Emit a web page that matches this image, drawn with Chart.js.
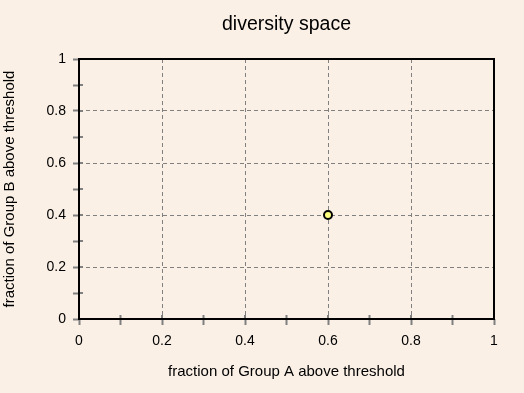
<!DOCTYPE html>
<html>
<head>
<meta charset="utf-8">
<script src="https://cdn.jsdelivr.net/npm/chart.js@4/dist/chart.umd.min.js"></script>
<style>
  html, body { margin: 0; padding: 0; background: #FAF0E6; }
  #wrap { width: 524px; height: 393px; }
</style>
</head>
<body>
<div id="wrap"><canvas id="space"></canvas></div>
<script>
// data
var xValues = [0.6];
var yValues = [0.4];
var labeledTicks = [0, 0.2, 0.4, 0.6, 0.8, 1];
var chartTitle = 'diversity space';
var xTitle = 'fraction of Group A above threshold';
var yTitle = 'fraction of Group B above threshold';

var points = xValues.map(function (x, i) { return { x: x, y: yValues[i] }; });

function isLabeled(v) {
  return labeledTicks.some(function (t) { return Math.abs(t - v) < 1e-6; });
}

function gridColor(ctx) {
  var v = ctx.tick ? ctx.tick.value : 0;
  if (v <= 0.001 || v >= 0.999) return 'rgba(0,0,0,0)';
  return isLabeled(v) ? '#808080' : 'rgba(0,0,0,0)';
}

function tickLabel(value) {
  if (!isLabeled(value)) return '';
  return String(Math.round(value * 10) / 10);
}

// box round the plot + short inner tick stubs
var frame = {
  id: 'frame',
  beforeDatasetsDraw: function (chart) {
    var c = chart.ctx, a = chart.chartArea;
    var xs = chart.scales.x, ys = chart.scales.y;
    c.save();
    c.strokeStyle = '#808080';
    c.lineWidth = 2;
    xs.ticks.forEach(function (t) {
      var px = xs.getPixelForValue(t.value);
      c.beginPath(); c.moveTo(px, a.bottom); c.lineTo(px, a.bottom - 4); c.stroke();
    });
    ys.ticks.forEach(function (t) {
      var py = ys.getPixelForValue(t.value);
      c.beginPath(); c.moveTo(a.left, py); c.lineTo(a.left + 4, py); c.stroke();
    });
    c.strokeStyle = '#000';
    c.lineWidth = 2;
    c.strokeRect(a.left, a.top, a.right - a.left, a.bottom - a.top);
    c.restore();
  }
};

Chart.defaults.font.family = '"Liberation Sans", Arial, sans-serif';
Chart.defaults.color = '#000';

new Chart(document.getElementById('space'), {
  type: 'scatter',
  data: {
    datasets: [{
      data: points,
      backgroundColor: '#FFFF80',
      borderColor: '#000',
      borderWidth: 2,
      pointRadius: 4,
      pointHoverRadius: 4
    }]
  },
  options: {
    responsive: true,
    maintainAspectRatio: false,
    animation: false,
    layout: { padding: { left: 0, right: 30, top: 0, bottom: 0 } },
    plugins: {
      legend: { display: false },
      tooltip: { enabled: false },
      title: {
        display: true,
        text: chartTitle,
        fullSize: false,
        color: '#000',
        font: { size: 19.5, weight: 'normal' },
        padding: { top: 13.3, bottom: 22.3 }
      }
    },
    scales: {
      x: {
        type: 'linear',
        min: 0,
        max: 1,
        afterFit: function (s) { s.height = 74; },
        border: { display: false, dash: [4, 3] },
        grid: { color: gridColor, tickColor: '#808080', tickWidth: 2, tickLength: 6, lineWidth: 1 },
        ticks: { stepSize: 0.1, autoSkip: false, maxRotation: 0, padding: 8, font: { size: 14 }, callback: tickLabel },
        title: { display: true, text: xTitle, font: { size: 15 }, padding: { top: 0, bottom: 12 } }
      },
      y: {
        type: 'linear',
        min: 0,
        max: 1,
        afterFit: function (s) { s.width = 79; },
        border: { display: false, dash: [4, 3] },
        grid: { color: gridColor, tickColor: '#808080', tickWidth: 2, tickLength: 6, lineWidth: 1 },
        ticks: { stepSize: 0.1, autoSkip: false, padding: 7, font: { size: 14 }, callback: tickLabel },
        title: { display: true, text: yTitle, font: { size: 15 }, padding: { top: 1, bottom: 0 } }
      }
    }
  },
  plugins: [frame]
});
</script>
</body>
</html>
